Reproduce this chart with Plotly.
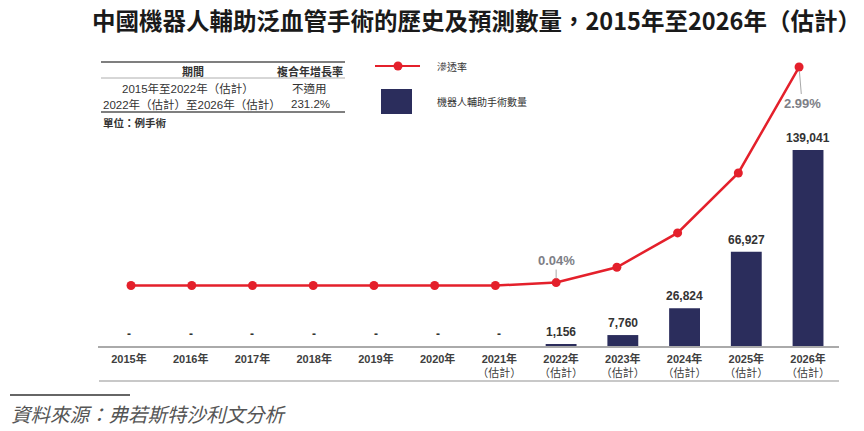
import plotly.graph_objects as go

W, H = 864, 431

# ---------------- data ----------------
years = ["2015", "2016", "2017", "2018", "2019", "2020",
         "2021", "2022", "2023", "2024", "2025", "2026"]
estimated = [False, False, False, False, False, False,
             True, True, True, True, True, True]
surgeries = [0, 0, 0, 0, 0, 0, 0, 1156, 7760, 26824, 66927, 139041]
penetration = [0.0, 0.0, 0.0, 0.0, 0.0, 0.0, 0.0, 0.04, 0.25, 0.72, 1.54, 2.99]
labelled_rates = {"2022": (0, -22), "2026": (3, 36)}

table_periods = ["2015年至2022年（估計）", "2022年（估計）至2026年（估計）"]
table_cagr = ["不適用", "231.2%"]
table_headers = ["期間", "複合年增長率"]

title_text = "中國機器人輔助泛血管手術的歷史及預測數量，2015年至2026年（估計）"
unit_text = "單位：例手術"
source_text = "資料來源：弗若斯特沙利文分析"
legend_line = "滲透率"
legend_bar = "機器人輔助手術數量"

RED = "#e4202b"
NAVY = "#2b2d5c"
TXT = "#333333"
FONT = "Liberation Sans, Noto Sans CJK TC, sans-serif"
CJK = "Noto Sans CJK TC, sans-serif"

def px(x):
    return x / W

def py(y):
    return 1 - y / H

tick_text = [f"<b>{y}年</b>" + ("<br>（估計）" if e else "") for y, e in zip(years, estimated)]

fig = go.Figure()
fig.add_trace(go.Bar(x=years, y=surgeries, marker_color=NAVY, marker_line_width=0,
                     xaxis="x", yaxis="y", showlegend=False, hoverinfo="skip"))
fig.add_trace(go.Scatter(x=years, y=penetration, mode="lines+markers",
                         line=dict(color=RED, width=2.5),
                         marker=dict(color=RED, size=9),
                         xaxis="x2", yaxis="y2", showlegend=False, hoverinfo="skip"))

annotations = []

def note(x, y, text, size, color=TXT, family=FONT, xanchor="center"):
    annotations.append(dict(x=px(x), y=py(y), xref="paper", yref="paper",
                            xanchor=xanchor, yanchor="middle", text=text,
                            showarrow=False, font=dict(family=family, size=size, color=color)))

# bar value labels (category index used as position)
for i, v in enumerate(surgeries):
    annotations.append(dict(x=i, y=v, xref="x", yref="y",
                            text=f"<b>{v:,}</b>" if v else "<b>-</b>",
                            showarrow=False, xanchor="center", yanchor="bottom", yshift=3,
                            font=dict(family=FONT, size=12, color=TXT)))
# penetration labels
for i, v in enumerate(penetration):
    if years[i] in labelled_rates:
        ax, ay = labelled_rates[years[i]]
        annotations.append(dict(x=i, y=v, xref="x2", yref="y2",
                                text=f"<b>{v:.2f}%</b>", showarrow=True,
                                arrowhead=0, arrowwidth=1, arrowcolor="#a8a8a8",
                                ax=ax, ay=ay, standoff=4,
                                font=dict(family=FONT, size=13, color="#7d7e86")))

# title
note(476, 20, f"<b>{title_text}</b>", 23.5, "#1a1a1a", CJK)
# table
note(193, 71, f"<b>{table_headers[0]}</b>", 11)
note(310, 71, f"<b>{table_headers[1]}</b>", 11)
note(188, 88, table_periods[0], 11.5)
note(309, 88, table_cagr[0], 11.5)
note(101, 104, table_periods[1], 11.5, xanchor="left")
note(310, 104, table_cagr[1], 11.5)
note(101, 123, f"<b>{unit_text}</b>", 10.5, xanchor="left")
# legend labels
note(435, 66, legend_line, 10, family=CJK, xanchor="left")
note(435, 102, legend_bar, 10, family=CJK, xanchor="left")
# source
note(9, 413, f"<i>{source_text}</i>", 19.5, "#555555", CJK, xanchor="left")

shapes = [
    # table rules
    dict(type="line", xref="paper", yref="paper", x0=px(101), x1=px(345), y0=py(62), y1=py(62),
         line=dict(color="#555555", width=1.5)),
    dict(type="line", xref="paper", yref="paper", x0=px(101), x1=px(345), y0=py(78), y1=py(78),
         line=dict(color="#999999", width=0.8)),
    dict(type="line", xref="paper", yref="paper", x0=px(101), x1=px(345), y0=py(112), y1=py(112),
         line=dict(color="#555555", width=1.5)),
    # legend
    dict(type="line", xref="paper", yref="paper", x0=px(375), x1=px(420), y0=py(66), y1=py(66),
         line=dict(color=RED, width=2)),
    dict(type="circle", xref="paper", yref="paper", x0=px(393.5), x1=px(402.5), y0=py(61.5), y1=py(70.5),
         fillcolor=RED, line=dict(color=RED, width=0)),
    dict(type="rect", xref="paper", yref="paper", x0=px(381), x1=px(412), y0=py(89), y1=py(114),
         fillcolor=NAVY, line=dict(color=NAVY, width=0)),
    # bottom rule under axis labels
    dict(type="line", xref="paper", yref="paper", x0=px(99), x1=px(839), y0=py(381), y1=py(381),
         line=dict(color="#c8c8c8", width=2)),
    # source rule
    dict(type="line", xref="paper", yref="paper", x0=px(10), x1=px(130), y0=py(395), y1=py(395),
         line=dict(color="#666666", width=2)),
]

dom_y = [85 / H, 390 / H]
fig.update_layout(
    width=W, height=H,
    margin=dict(l=0, r=0, t=0, b=0),
    paper_bgcolor="white", plot_bgcolor="rgba(0,0,0,0)",
    bargap=0.5,
    xaxis=dict(type="category", domain=[98.1 / W, 838.9 / W], range=[-0.5, 11.5],
               tickmode="array", tickvals=years, ticktext=tick_text,
               tickfont=dict(family=FONT, size=11, color="#404040"),
               showline=True, linecolor="#aaaaaa", linewidth=1.5,
               showgrid=False, zeroline=False, ticks="", ticklabelstandoff=2),
    yaxis=dict(domain=dom_y, range=[0, 216364], showticklabels=False, showline=False,
               showgrid=False, zeroline=False, ticks=""),
    xaxis2=dict(type="category", range=[-0.542, 11.656],
                overlaying="x", anchor="y2", showticklabels=False, showline=False,
                showgrid=False, zeroline=False, ticks=""),
    yaxis2=dict(domain=dom_y, range=[-0.828, 3.346], overlaying="y", anchor="x2",
                showticklabels=False, showline=False, showgrid=False, zeroline=False, ticks=""),
    annotations=annotations,
    shapes=shapes,
)

fig.write_html("out.html", config={"displayModeBar": False},
               post_script="document.body.style.margin='0';document.body.style.padding='0';")
